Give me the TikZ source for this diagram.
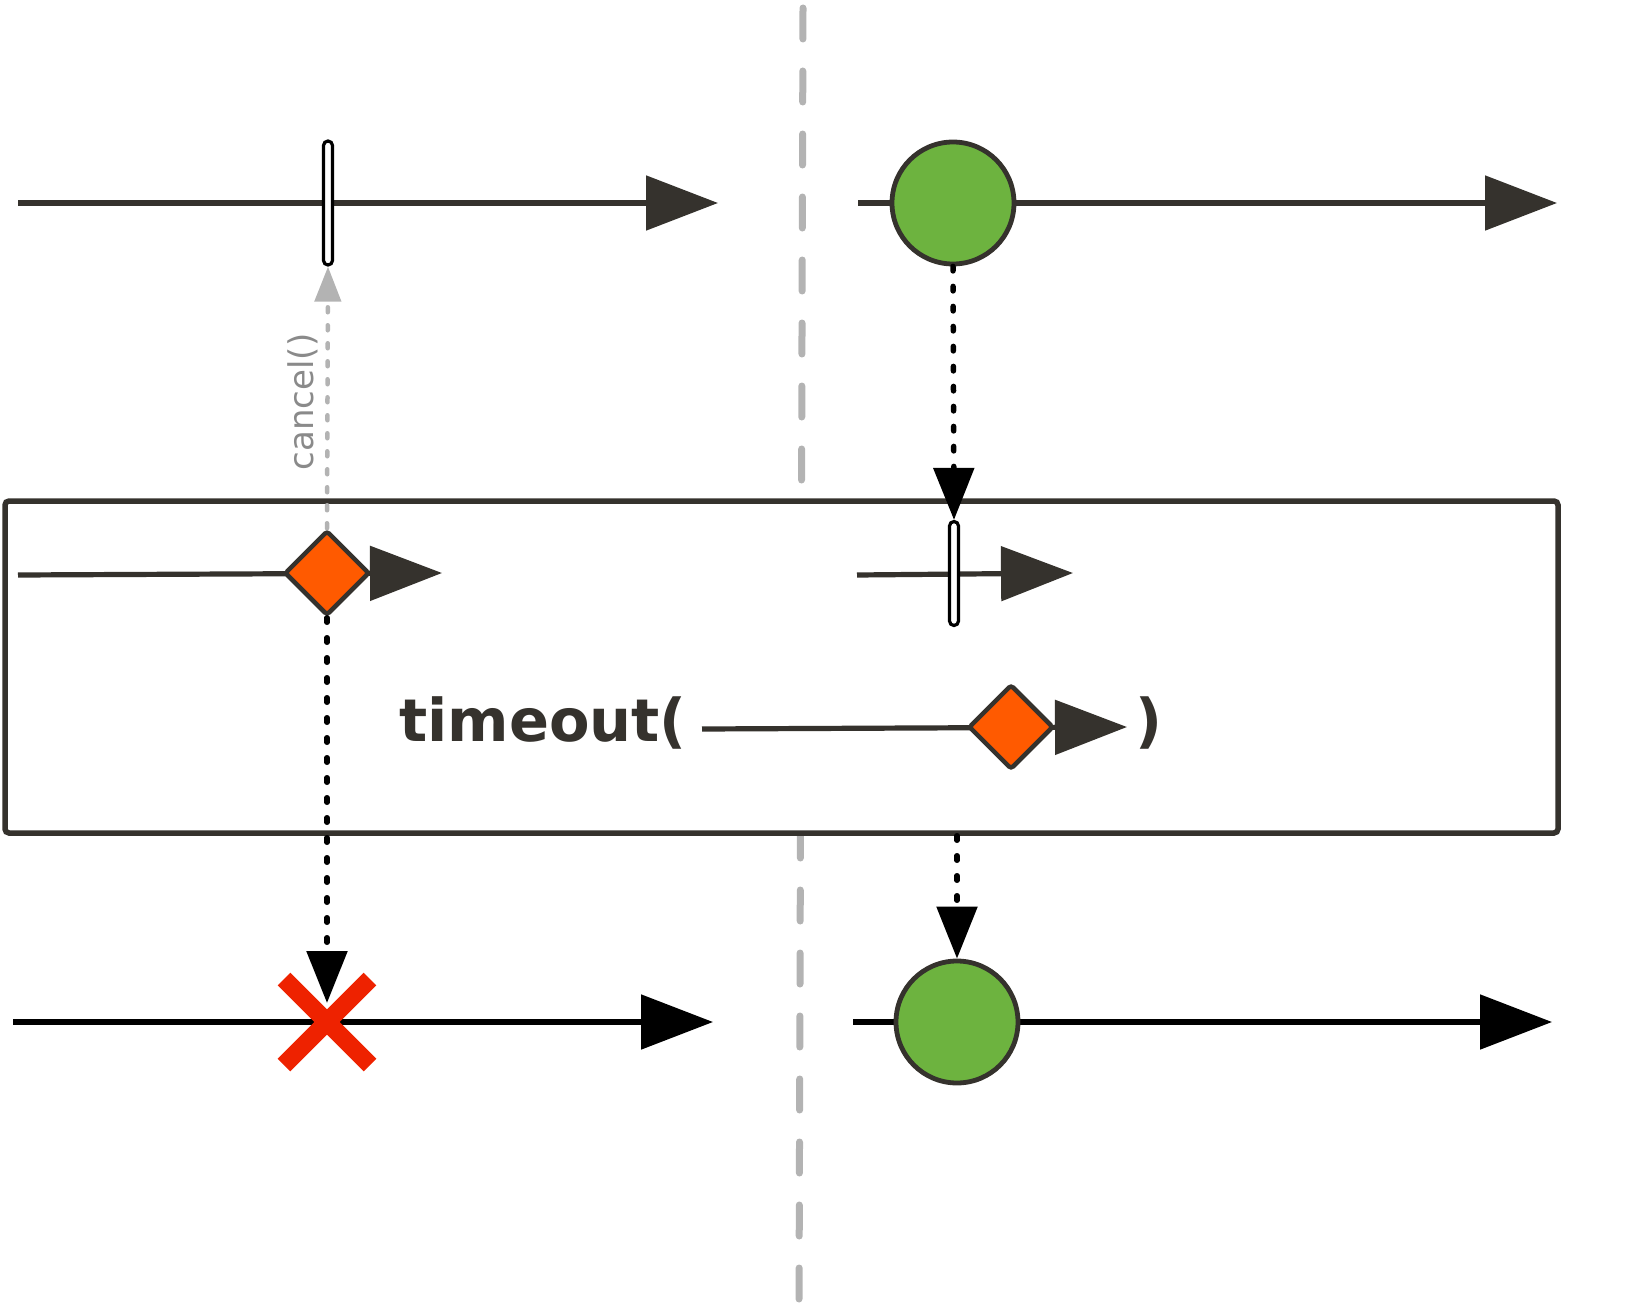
\documentclass[tikz,border=0pt]{standalone}
\usepackage{fontspec}
\newfontfamily\dejavu{DejaVu Sans}
\usetikzlibrary{arrows.meta,shapes.geometric}
\definecolor{dark}{HTML}{35322D}
\definecolor{orangefill}{HTML}{FF5A00}
\definecolor{greenfill}{HTML}{6DB33F}
\definecolor{xred}{HTML}{EE2200}
\definecolor{guidegray}{HTML}{B3B3B3}
\definecolor{labelgray}{HTML}{8A8A8A}
\tikzset{
  mainline/.style={draw=dark, line width=5.2pt, -{Triangle[length=72pt,width=54pt]}},
  blackline/.style={draw=black, line width=5.2pt, -{Triangle[length=72pt,width=54pt]}},
  guide/.style={draw=guidegray, line width=7pt, line cap=round, dash pattern=on 31pt off 32pt},
  boxstyle/.style={draw=dark, fill=white, line width=5.5pt, rounded corners=4pt, minimum width=1553pt, minimum height=332pt, inner sep=0pt},
  pill/.style={draw=black, fill=white, line width=3.2pt, minimum width=9pt, rounded corners=4.5pt, inner sep=0pt},
  greenball/.style={circle, draw=dark, fill=greenfill, line width=4.8pt, minimum size=122pt, inner sep=0pt},
  orangediamond/.style={diamond, aspect=1, draw=dark, fill=orangefill, line width=4.5pt, minimum width=85pt, minimum height=85pt, inner sep=0pt, rounded corners=3pt},
  xarm/.style={draw=xred, line width=18pt, line cap=butt},
  dotconn/.style={draw=black, line width=5.5pt, line cap=round, dash pattern=on 4.5pt off 15.5pt, -{Triangle[length=52pt,width=40pt]}},
  cancelconn/.style={draw=guidegray, line width=4.5pt, line cap=round, dash pattern=on 5pt off 13pt, -{Triangle[length=35pt,width=26pt]}},
}
\begin{document}
\begin{tikzpicture}[x=1pt,y=-1pt]
\useasboundingbox (0,0) rectangle (1641,1314);
% vertical dashed guide
\coordinate (gtop) at (803,8);
\coordinate (gbot) at (799,1308);
\draw[guide] (gtop) -- (gbot);
% operator box
\node[boxstyle] (box) at (781.5,667) {};
% timelines
\coordinate (t1s) at (18,203);  \coordinate (t1e) at (718,203);
\coordinate (t2s) at (858,203); \coordinate (t2e) at (1557,203);
\coordinate (m1s) at (18,575);  \coordinate (m1e) at (442,573);
\coordinate (m2s) at (857,575); \coordinate (m2e) at (1073,573);
\coordinate (i1s) at (702,729); \coordinate (i1e) at (1127,727);
\coordinate (b1s) at (13,1022); \coordinate (b1e) at (713,1022);
\coordinate (b2s) at (853,1022); \coordinate (b2e) at (1552,1022);
\draw[mainline] (t1s) -- (t1e);
\draw[mainline] (t2s) -- (t2e);
\draw[mainline] (m1s) -- (m1e);
\draw[mainline] (m2s) -- (m2e);
\draw[mainline] (i1s) -- (i1e);
\draw[blackline] (b1s) -- (b1e);
\draw[blackline] (b2s) -- (b2e);
% items
\node[pill, minimum height=124pt] (p1) at (328,203) {};
\node[greenball] (g1) at (953,203) {};
\node[orangediamond] (d1) at (327,573) {};
\node[pill, minimum height=104pt] (p2) at (954,573.5) {};
\node[orangediamond] (d2) at (1011,727) {};
\node[greenball] (g2) at (957,1022) {};
\coordinate (xm) at (327,1022);
\draw[xarm] (xm) ++(-43,-43) -- ++(86,86);
\draw[xarm] (xm) ++(43,-43) -- ++(-86,86);
% texts
\node[anchor=base west, inner sep=0pt, text=dark, font=\dejavu\bfseries\fontsize{59}{61}\selectfont] (tlabel) at (399,741) {timeout(};
\node[anchor=base west, inner sep=0pt, text=dark, font=\dejavu\bfseries\fontsize{59}{61}\selectfont] (rparen) at (1135,741) {)};
\node[anchor=base, rotate=90, text=labelgray, inner sep=0pt, font=\dejavu\fontsize{34}{36}\selectfont] (cancellabel) at (313,402) {cancel()};
% connectors
\draw[cancelconn] (d1.north) -- (p1.south);
\draw[dotconn] (g1.south) -- (p2.north);
\draw[dotconn, shorten >=19pt] (d1.south) -- (xm);
\draw[dotconn] (box.south -| g2.north) -- (g2.north);
\end{tikzpicture}
\end{document}
